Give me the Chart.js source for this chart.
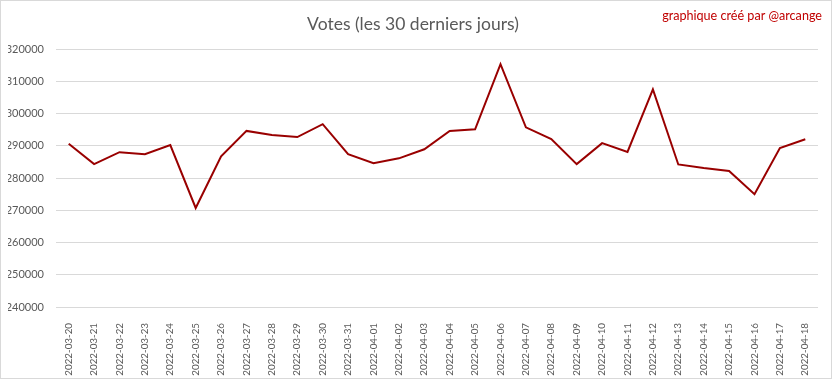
<!DOCTYPE html>
<html><head><meta charset="utf-8">
<script src="https://cdn.jsdelivr.net/npm/chart.js@4/dist/chart.umd.min.js"></script>
<style>html,body{margin:0;padding:0;background:#fff}canvas{display:block}</style>
</head><body>
<canvas id="c" width="832" height="379"></canvas>
<script>
const categories = ["2022-03-20","2022-03-21","2022-03-22","2022-03-23","2022-03-24","2022-03-25","2022-03-26","2022-03-27","2022-03-28","2022-03-29","2022-03-30","2022-03-31","2022-04-01","2022-04-02","2022-04-03","2022-04-04","2022-04-05","2022-04-06","2022-04-07","2022-04-08","2022-04-09","2022-04-10","2022-04-11","2022-04-12","2022-04-13","2022-04-14","2022-04-15","2022-04-16","2022-04-17","2022-04-18"];
const votes = [290600,284300,288000,287400,290200,270700,286700,294600,293300,292700,296700,287400,284600,286100,288900,294600,295100,315300,295700,292100,284300,290800,288100,307500,284200,283100,282200,275000,289300,292000];
const yTicks = [240000,250000,260000,270000,280000,290000,300000,310000,320000];
const titleText = "Votes (les 30 derniers jours)";
const creditText = "graphique créé par @arcange";

const FONT = "Lato, 'Open Sans', sans-serif";
const decor = {
  id: 'decor',
  beforeDraw(chart) {
    const ctx = chart.ctx;
    ctx.save();
    ctx.fillStyle = '#fff';
    ctx.fillRect(0, 0, chart.width, chart.height);
    ctx.restore();
  },
  afterDraw(chart) {
    const ctx = chart.ctx;
    ctx.save();
    ctx.strokeStyle = '#d9d9d9';
    ctx.lineWidth = 1;
    ctx.strokeRect(0.5, 0.5, chart.width - 1, chart.height - 1);
    ctx.fillStyle = '#c00000';
    ctx.font = "12.6px " + FONT;
    ctx.textAlign = 'right';
    ctx.textBaseline = 'middle';
    ctx.fillText(creditText, 822, 16);
    ctx.restore();
  }
};

new Chart(document.getElementById('c'), {
  type: 'line',
  data: {
    labels: categories,
    datasets: [{
      data: votes,
      borderColor: '#990000',
      borderWidth: 2,
      pointRadius: 0,
      tension: 0,
      fill: false
    }]
  },
  options: {
    responsive: false,
    animation: false,
    layout: { padding: { left: 8, right: 14, top: 0, bottom: 0 } },
    plugins: {
      legend: { display: false },
      tooltip: { enabled: false },
      title: {
        display: true,
        text: titleText,
        color: '#595959',
        font: { family: FONT, size: 17.5, weight: 'normal' },
        padding: { top: 14, bottom: 14 }
      }
    },
    scales: {
      x: {
        offset: true,
        afterFit(scale) { scale.height = 72; },
        grid: { display: false },
        border: { display: false },
        ticks: {
          autoSkip: false,
          maxRotation: 90,
          minRotation: 90,
          padding: 8,
          color: '#595959',
          font: { family: FONT, size: 9.8 }
        }
      },
      y: {
        min: 240000,
        max: 320000,
        afterBuildTicks(scale) { scale.ticks = yTicks.map(v => ({ value: v })); },
        afterFit(scale) { scale.width = 48; },
        grid: { color: '#d9d9d9', drawTicks: false, lineWidth: 1 },
        border: { display: false },
        ticks: {
          padding: 12,
          color: '#595959',
          font: { family: FONT, size: 11 },
          callback: v => String(v)
        }
      }
    }
  },
  plugins: [decor]
});
</script>
</body></html>
